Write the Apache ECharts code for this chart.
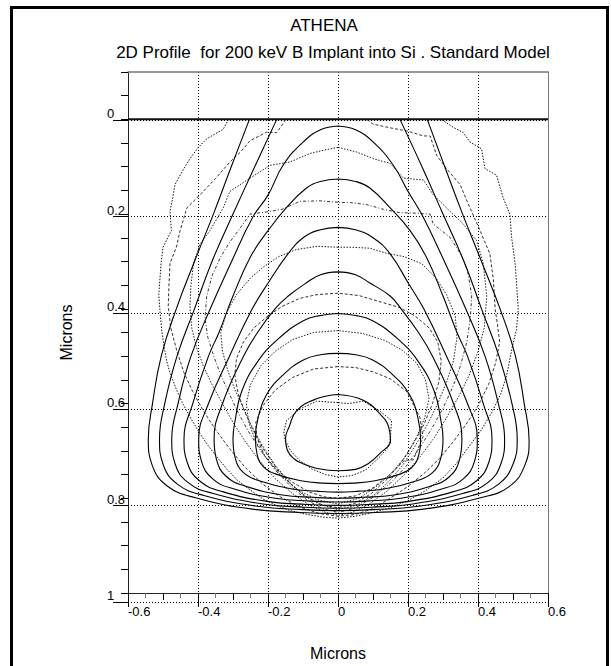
<!DOCTYPE html>
<html>
<head>
<meta charset="utf-8">
<script src="https://cdn.jsdelivr.net/npm/echarts@6/dist/echarts.min.js"></script>
<style>
html,body{margin:0;padding:0;background:#fff;}
#chart{width:611px;height:666px;}
</style>
</head>
<body>
<div id="chart"></div>
<script>
// ---- Text ----
const mainTitle = 'ATHENA';
const subTitle = '2D Profile  for 200 keV B Implant into Si . Standard Model';
const xAxisTitle = 'Microns';
const yAxisTitle = 'Microns';

// ---- Axis ranges (microns) ----
const xRange = [-0.6, 0.6];
const yRange = [-0.1, 1];

// ---- Solid contours (analytic model), [x, depth] ----
const solidA = [[-0.253,0],[-0.305,0.1],[-0.356,0.2],[-0.41,0.3],[-0.462,0.4],[-0.505,0.5],[-0.53,0.6],[-0.542,0.675],[-0.531,0.73],[-0.488,0.774],[-0.407,0.799],[-0.244,0.823],[-0.108,0.83],[0,0.832],[0.108,0.83],[0.244,0.823],[0.407,0.799],[0.49,0.775],[0.534,0.73],[0.546,0.678],[0.532,0.6],[0.507,0.5],[0.463,0.4],[0.41,0.3],[0.356,0.2],[0.305,0.1],[0.255,0]];
const solidB = [[-0.175,0],[-0.238,0.1],[-0.3,0.2],[-0.36,0.3],[-0.41,0.4],[-0.46,0.5],[-0.495,0.6],[-0.51,0.675],[-0.5,0.728],[-0.459,0.77],[-0.383,0.794],[-0.23,0.817],[-0.102,0.824],[0,0.826],[0.102,0.824],[0.23,0.817],[0.383,0.794],[0.459,0.77],[0.5,0.728],[0.512,0.675],[0.497,0.6],[0.46,0.5],[0.41,0.4],[0.36,0.3],[0.3,0.2],[0.24,0.1],[0.177,0]];
const solid7 = [[0,0.014],[-0.05,0.022],[-0.1,0.048],[-0.157,0.097],[-0.2,0.16],[-0.244,0.207],[-0.304,0.3],[-0.365,0.4],[-0.42,0.5],[-0.457,0.6],[-0.475,0.675],[-0.466,0.726],[-0.428,0.767],[-0.356,0.79],[-0.214,0.812],[-0.095,0.819],[0,0.821],[0.095,0.819],[0.214,0.812],[0.356,0.79],[0.428,0.767],[0.466,0.726],[0.476,0.675],[0.458,0.6],[0.42,0.5],[0.365,0.4],[0.304,0.3],[0.244,0.207],[0.2,0.152],[0.158,0.097],[0.101,0.048],[0.05,0.022],[0,0.014]];
const solid6 = [[0,0.126],[-0.05,0.131],[-0.09,0.145],[-0.148,0.187],[-0.2,0.235],[-0.25,0.29],[-0.3,0.373],[-0.34,0.45],[-0.37,0.5],[-0.415,0.6],[-0.44,0.675],[-0.431,0.724],[-0.396,0.763],[-0.33,0.786],[-0.198,0.807],[-0.088,0.813],[0,0.815],[0.088,0.813],[0.198,0.807],[0.33,0.786],[0.396,0.763],[0.431,0.724],[0.44,0.675],[0.415,0.6],[0.37,0.5],[0.34,0.45],[0.3,0.373],[0.252,0.29],[0.206,0.235],[0.149,0.187],[0.091,0.145],[0.05,0.131],[0,0.126]];
const solid5 = [[0,0.228],[-0.05,0.233],[-0.1,0.25],[-0.143,0.284],[-0.2,0.346],[-0.245,0.4],[-0.31,0.5],[-0.37,0.6],[-0.398,0.675],[-0.39,0.722],[-0.358,0.759],[-0.299,0.78],[-0.179,0.8],[-0.08,0.806],[0,0.808],[0.08,0.806],[0.179,0.8],[0.299,0.78],[0.358,0.759],[0.39,0.722],[0.398,0.675],[0.37,0.6],[0.31,0.5],[0.245,0.4],[0.201,0.346],[0.149,0.284],[0.1,0.25],[0.05,0.233],[0,0.228]];
const solid4 = [[0,0.322],[-0.05,0.328],[-0.09,0.345],[-0.142,0.373],[-0.18,0.4],[-0.23,0.45],[-0.27,0.5],[-0.33,0.6],[-0.354,0.675],[-0.347,0.719],[-0.319,0.754],[-0.266,0.774],[-0.159,0.793],[-0.071,0.798],[0,0.8],[0.071,0.798],[0.159,0.793],[0.266,0.774],[0.319,0.754],[0.347,0.719],[0.354,0.675],[0.33,0.6],[0.27,0.5],[0.23,0.45],[0.18,0.4],[0.149,0.373],[0.09,0.345],[0.05,0.328],[0,0.322]];
const solid3 = [[0,0.41],[-0.05,0.414],[-0.099,0.425],[-0.17,0.463],[-0.23,0.512],[-0.275,0.574],[-0.294,0.636],[-0.3,0.675],[-0.294,0.714],[-0.27,0.746],[-0.225,0.763],[-0.135,0.78],[-0.06,0.785],[0,0.787],[0.06,0.785],[0.135,0.78],[0.225,0.763],[0.27,0.746],[0.294,0.714],[0.3,0.675],[0.294,0.636],[0.275,0.574],[0.23,0.512],[0.17,0.463],[0.099,0.425],[0.05,0.414],[0,0.41]];
const solid2 = [[0,0.494],[-0.05,0.497],[-0.099,0.508],[-0.156,0.539],[-0.204,0.581],[-0.228,0.629],[-0.236,0.671],[-0.231,0.708],[-0.212,0.734],[-0.177,0.749],[-0.106,0.763],[-0.047,0.768],[0,0.769],[0.047,0.768],[0.106,0.763],[0.177,0.749],[0.212,0.734],[0.231,0.708],[0.236,0.677],[0.228,0.629],[0.204,0.581],[0.156,0.539],[0.099,0.508],[0.05,0.497],[0,0.494]];
const solid1 = [[0,0.581],[-0.061,0.59],[-0.118,0.615],[-0.14,0.65],[-0.15,0.673],[-0.145,0.698],[-0.125,0.717],[-0.1,0.727],[-0.06,0.737],[0,0.742],[0.05,0.739],[0.088,0.726],[0.12,0.705],[0.15,0.678],[0.145,0.65],[0.12,0.622],[0.072,0.593],[0,0.581]];

// ---- Dashed contours (Monte Carlo), [x, depth] ----
const mc1 = [[-0.313,0],[-0.328,0.021],[-0.375,0.041],[-0.4,0.06],[-0.423,0.083],[-0.445,0.11],[-0.466,0.138],[-0.472,0.165],[-0.48,0.194],[-0.476,0.235],[-0.5,0.27],[-0.505,0.3],[-0.509,0.339],[-0.512,0.37],[-0.509,0.401],[-0.504,0.443],[-0.497,0.48],[-0.489,0.512],[-0.48,0.535],[-0.462,0.57],[-0.442,0.602],[-0.42,0.632],[-0.394,0.664],[-0.37,0.69],[-0.347,0.712],[-0.318,0.738],[-0.289,0.761],[-0.25,0.783],[-0.213,0.802],[-0.175,0.815],[-0.137,0.826],[-0.09,0.834],[-0.04,0.84],[0,0.842],[0.05,0.838],[0.1,0.83],[0.15,0.82],[0.2,0.805],[0.25,0.784],[0.3,0.757],[0.34,0.725],[0.375,0.69],[0.41,0.655],[0.44,0.618],[0.465,0.58],[0.482,0.54],[0.499,0.477],[0.51,0.443],[0.515,0.401],[0.51,0.346],[0.506,0.304],[0.496,0.249],[0.491,0.2],[0.472,0.166],[0.453,0.118],[0.42,0.104],[0.41,0.062],[0.377,0.048],[0.358,0.028],[0.33,0.017],[0.301,0.003],[0.295,0]];
const mc2 = [[-0.15,0],[-0.16,0.012],[-0.175,0.028],[-0.204,0.027],[-0.251,0.045],[-0.28,0.07],[-0.309,0.09],[-0.35,0.125],[-0.394,0.159],[-0.432,0.187],[-0.451,0.235],[-0.462,0.27],[-0.48,0.304],[-0.483,0.35],[-0.485,0.394],[-0.478,0.44],[-0.46,0.49],[-0.44,0.535],[-0.415,0.575],[-0.385,0.615],[-0.35,0.655],[-0.31,0.695],[-0.265,0.735],[-0.215,0.77],[-0.165,0.797],[-0.11,0.818],[-0.055,0.832],[0,0.838],[0.05,0.834],[0.1,0.822],[0.149,0.8],[0.2,0.775],[0.25,0.745],[0.291,0.715],[0.33,0.68],[0.365,0.645],[0.4,0.605],[0.43,0.56],[0.45,0.515],[0.462,0.47],[0.455,0.43],[0.449,0.401],[0.444,0.339],[0.434,0.284],[0.406,0.235],[0.377,0.187],[0.349,0.138],[0.31,0.104],[0.282,0.076],[0.263,0.035],[0.244,0.035],[0.2,0.025],[0.15,0.018],[0.1,0.01],[0.082,0]];
const mc3 = [[0,0.059],[-0.04,0.065],[-0.08,0.072],[-0.137,0.09],[-0.194,0.097],[-0.251,0.124],[-0.309,0.152],[-0.328,0.187],[-0.366,0.235],[-0.394,0.263],[-0.413,0.304],[-0.42,0.35],[-0.423,0.394],[-0.418,0.44],[-0.405,0.48],[-0.385,0.52],[-0.36,0.56],[-0.33,0.6],[-0.3,0.64],[-0.265,0.68],[-0.225,0.72],[-0.18,0.758],[-0.13,0.79],[-0.08,0.815],[-0.035,0.83],[0,0.836],[0.04,0.83],[0.09,0.812],[0.14,0.785],[0.19,0.75],[0.235,0.712],[0.275,0.672],[0.31,0.63],[0.345,0.585],[0.375,0.54],[0.4,0.49],[0.418,0.44],[0.425,0.373],[0.415,0.304],[0.396,0.256],[0.358,0.221],[0.32,0.194],[0.272,0.159],[0.244,0.128],[0.187,0.124],[0.149,0.093],[0.101,0.083],[0.053,0.069],[0,0.059]];
const mc4 = [[0,0.175],[-0.05,0.172],[-0.109,0.173],[-0.16,0.19],[-0.2,0.195],[-0.251,0.2],[-0.28,0.23],[-0.31,0.26],[-0.335,0.29],[-0.36,0.33],[-0.375,0.373],[-0.38,0.42],[-0.372,0.46],[-0.355,0.5],[-0.335,0.54],[-0.31,0.58],[-0.285,0.62],[-0.255,0.66],[-0.22,0.7],[-0.18,0.74],[-0.135,0.775],[-0.09,0.803],[-0.045,0.822],[0,0.83],[0.05,0.82],[0.1,0.798],[0.15,0.768],[0.195,0.732],[0.235,0.692],[0.27,0.65],[0.3,0.61],[0.328,0.565],[0.35,0.52],[0.368,0.47],[0.378,0.42],[0.382,0.373],[0.37,0.318],[0.35,0.284],[0.32,0.249],[0.272,0.221],[0.263,0.2],[0.22,0.198],[0.177,0.197],[0.13,0.19],[0.082,0.18],[0.04,0.176],[0,0.175]];
const mc5 = [[0,0.27],[-0.06,0.268],[-0.12,0.275],[-0.17,0.29],[-0.21,0.31],[-0.25,0.335],[-0.29,0.37],[-0.32,0.41],[-0.335,0.45],[-0.33,0.49],[-0.315,0.53],[-0.295,0.57],[-0.27,0.61],[-0.245,0.65],[-0.215,0.69],[-0.18,0.73],[-0.14,0.765],[-0.1,0.793],[-0.055,0.812],[0,0.824],[0.05,0.815],[0.1,0.795],[0.145,0.765],[0.185,0.73],[0.22,0.69],[0.255,0.645],[0.285,0.6],[0.31,0.555],[0.33,0.51],[0.34,0.46],[0.335,0.415],[0.31,0.37],[0.28,0.335],[0.24,0.305],[0.19,0.29],[0.14,0.283],[0.09,0.272],[0.04,0.27],[0,0.27]];
const mc6 = [[0,0.367],[-0.06,0.37],[-0.11,0.378],[-0.16,0.395],[-0.2,0.415],[-0.24,0.44],[-0.27,0.47],[-0.29,0.505],[-0.295,0.54],[-0.285,0.58],[-0.265,0.62],[-0.24,0.66],[-0.21,0.7],[-0.175,0.737],[-0.135,0.77],[-0.09,0.797],[-0.045,0.814],[0,0.82],[0.05,0.81],[0.095,0.79],[0.14,0.76],[0.18,0.725],[0.215,0.685],[0.245,0.645],[0.27,0.6],[0.288,0.555],[0.295,0.51],[0.285,0.47],[0.26,0.44],[0.22,0.415],[0.175,0.397],[0.12,0.385],[0.06,0.372],[0,0.367]];
const mc7 = [[0,0.446],[-0.07,0.45],[-0.13,0.465],[-0.18,0.49],[-0.22,0.52],[-0.25,0.56],[-0.262,0.6],[-0.255,0.64],[-0.235,0.68],[-0.205,0.715],[-0.165,0.75],[-0.12,0.78],[-0.06,0.803],[0,0.812],[0.06,0.8],[0.11,0.775],[0.155,0.745],[0.195,0.71],[0.225,0.67],[0.248,0.63],[0.26,0.59],[0.25,0.55],[0.225,0.515],[0.185,0.488],[0.135,0.467],[0.07,0.452],[0,0.446]];
const mc8 = [[0,0.522],[-0.07,0.527],[-0.13,0.545],[-0.18,0.572],[-0.215,0.605],[-0.235,0.64],[-0.232,0.672],[-0.21,0.71],[-0.175,0.74],[-0.13,0.766],[-0.085,0.786],[-0.04,0.797],[0,0.8],[0.05,0.795],[0.1,0.778],[0.145,0.752],[0.19,0.72],[0.215,0.719],[0.243,0.67],[0.234,0.629],[0.196,0.574],[0.15,0.548],[0.1,0.533],[0.05,0.524],[0,0.522]];
const mc9 = [[0,0.598],[-0.061,0.595],[-0.11,0.612],[-0.147,0.636],[-0.155,0.66],[-0.151,0.678],[-0.135,0.7],[-0.11,0.72],[-0.075,0.738],[-0.035,0.75],[0,0.755],[0.04,0.752],[0.08,0.74],[0.12,0.712],[0.14,0.695],[0.149,0.678],[0.153,0.636],[0.12,0.616],[0.072,0.595],[0.03,0.6],[0,0.598]];

// ---- Surface line ----
const surface = [[-0.6,0],[0.6,0]];

const solidSets = [solidA, solidB, solid7, solid6, solid5, solid4, solid3, solid2, solid1];
const mcSets = [mc1, mc2, mc3, mc4, mc5, mc6, mc7, mc8, mc9];
const mcDash = [[1.5,1.5],[3,2],[1.5,1.5],[3,2,1,2],[1.5,1.5],[3,2],[1.5,1.5],[3,2],[1.5,1.5]];
const mcColor = ['#111','#333','#222','#333','#222','#333','#222','#333','#111'];

const chart = echarts.init(document.getElementById('chart'), null, {renderer:'svg'});
const FONT = 'Liberation Sans, Arial, Helvetica, sans-serif';
const dotted = {color:'#000', width:1, type:[1,2]};

const series = [];
solidSets.forEach((d,i)=>{
  series.push({type:'line', xAxisIndex:0, yAxisIndex:0, data:d, showSymbol:false, symbol:'none', smooth:0.45,
    lineStyle:{color:'#000', width:1.1}, silent:true, z:4});
});
mcSets.forEach((d,i)=>{
  series.push({type:'line', xAxisIndex:0, yAxisIndex:0, data:d, showSymbol:false, symbol:'none', smooth:false,
    lineStyle:{color:mcColor[i], width:1, type:mcDash[i]}, silent:true, z:3});
});
series.push({type:'line', xAxisIndex:0, yAxisIndex:0, data:surface, showSymbol:false, symbol:'none',
  lineStyle:{color:'#111', width:2}, silent:true, z:5});

const option = {
  animation:false,
  backgroundColor:'#fff',
  textStyle:{fontFamily:FONT},
  grid:[
    {left:128, top:72, width:420, height:530, containLabel:false},
    {left:128, top:120.2, width:420, height:481.8, containLabel:false}
  ],
  xAxis:[
    {type:'value', gridIndex:0, min:xRange[0], max:xRange[1], interval:0.2, position:'bottom',
      axisLine:{show:true, onZero:false, lineStyle:{color:'#222', width:1}},
      axisTick:{show:true, length:14, lineStyle:{color:'#000'}},
      minorTick:{show:true, splitNumber:4, length:5, lineStyle:{color:'#777'}},
      axisLabel:{show:true, fontSize:13, color:'#000', align:'left', verticalAlign:'top', margin:12, lineHeight:13, fontFamily:FONT,
        formatter:v=>String(Math.round(v*10)/10)},
      splitLine:{show:true, lineStyle:dotted},
      name:xAxisTitle, nameLocation:'middle', nameGap:52, nameTextStyle:{fontSize:16, color:'#000', fontFamily:FONT}},
    {type:'value', gridIndex:0, min:xRange[0], max:xRange[1], interval:0.1, position:'bottom',
      axisLine:{show:false, onZero:false}, axisTick:{show:true, length:7, lineStyle:{color:'#000'}},
      axisLabel:{show:false}, splitLine:{show:false}},
    {type:'value', gridIndex:1, min:xRange[0], max:xRange[1], show:false},
    {type:'value', gridIndex:0, min:xRange[0], max:xRange[1], position:'top',
      axisLine:{show:true, onZero:false, lineStyle:{color:'#777', width:1.5}}, axisTick:{show:false},
      axisLabel:{show:false}, splitLine:{show:false}}
  ],
  yAxis:[
    {type:'value', gridIndex:0, inverse:true, min:yRange[0], max:yRange[1], interval:0.05, position:'left',
      axisLine:{show:true, onZero:false, lineStyle:{color:'#222', width:1}},
      axisTick:{show:true, length:7, lineStyle:{color:'#000'}},
      axisLabel:{show:false}, splitLine:{show:false},
      name:yAxisTitle, nameLocation:'middle', nameGap:54, nameRotate:90,
      nameTextStyle:{fontSize:16, color:'#000', fontFamily:FONT}},
    {type:'value', gridIndex:1, inverse:true, min:0, max:1, interval:0.2, position:'left',
      axisLine:{show:false, onZero:false},
      axisTick:{show:true, length:15, lineStyle:{color:'#000'}},
      axisLabel:{show:true, fontSize:13, color:'#000', align:'left', verticalAlign:'bottom', margin:21, lineHeight:13, fontFamily:FONT,
        formatter:v=>String(Math.round(v*10)/10)},
      splitLine:{show:true, lineStyle:dotted}},
    {type:'value', gridIndex:0, inverse:true, min:yRange[0], max:yRange[1], position:'right',
      axisLine:{show:true, onZero:false, lineStyle:{color:'#777', width:1}}, axisTick:{show:false},
      axisLabel:{show:false}, splitLine:{show:false}}
  ],
  graphic:[
    {type:'rect', shape:{x:11.5, y:7.5, width:596, height:720}, style:{fill:null, stroke:'#000', lineWidth:3}, silent:true, z:100},
    {type:'text', x:324, y:25, style:{text:mainTitle, font:'17px '+FONT, fill:'#000', textAlign:'center', textVerticalAlign:'middle'}, z:100},
    {type:'text', x:333, y:52.5, style:{text:subTitle, font:'17px '+FONT, fill:'#000', textAlign:'center', textVerticalAlign:'middle'}, z:100}
  ],
  series:series
};
chart.setOption(option);
</script>
</body>
</html>
